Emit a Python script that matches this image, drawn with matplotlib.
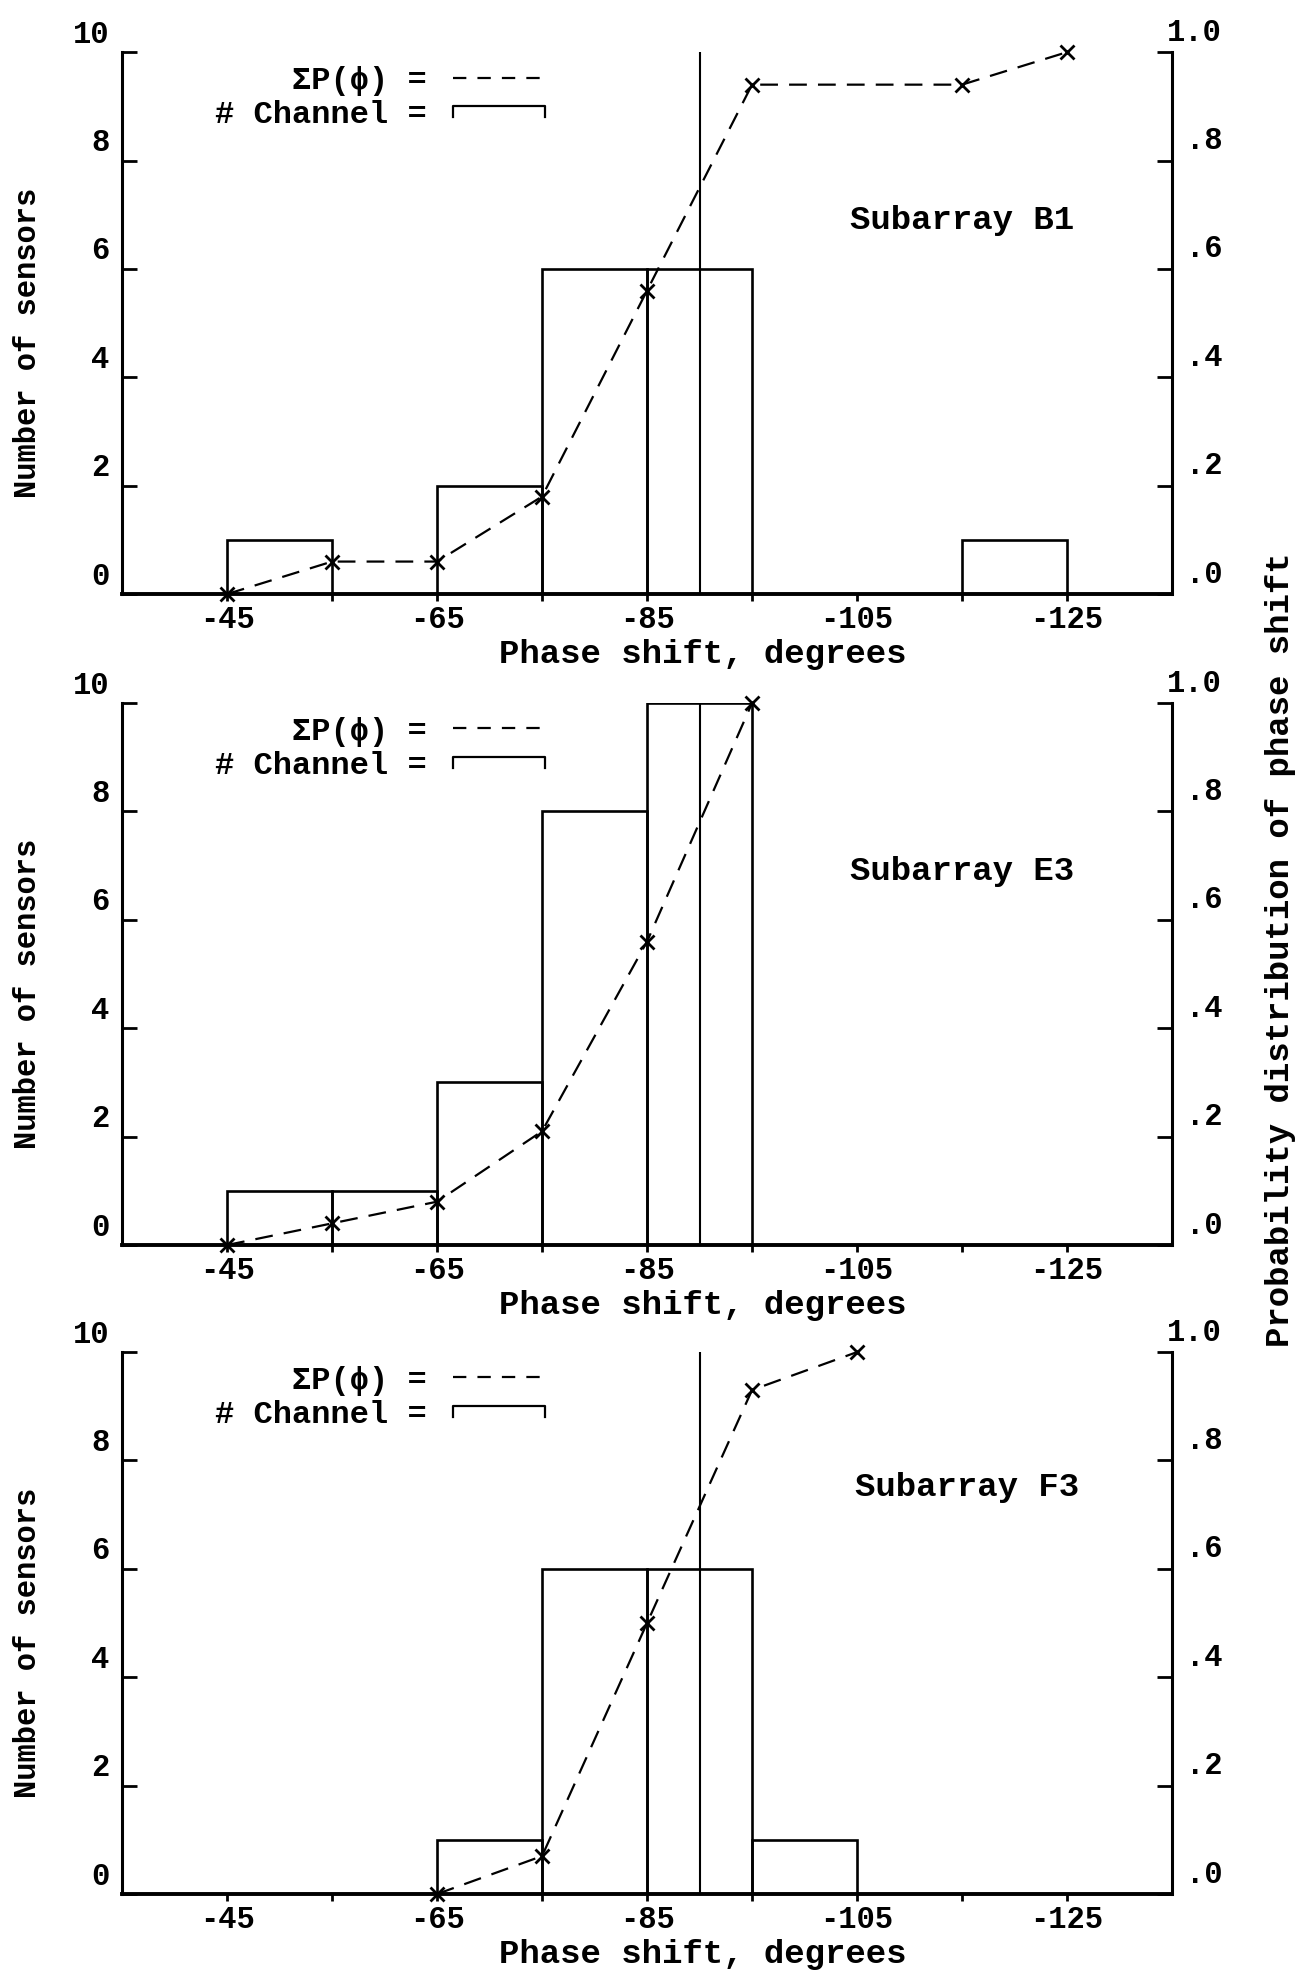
import matplotlib
matplotlib.use('Agg')
import matplotlib.pyplot as plt
from matplotlib.lines import Line2D
from matplotlib.legend_handler import HandlerBase
from matplotlib.container import BarContainer
from matplotlib.transforms import ScaledTranslation

plt.rcParams['font.family'] = ['Liberation Mono', 'DejaVu Sans Mono']
plt.rcParams['font.weight'] = 'bold'
plt.rcParams['axes.labelweight'] = 'bold'

# histogram bins (10 degree wide), centres in degrees
bin_centers = [-50, -60, -70, -80, -90, -100, -110, -120]

names = ['Subarray B1', 'Subarray E3', 'Subarray F3']

# number of sensors per bin
b1_counts = [1, 0, 2, 6, 6, 0, 0, 1]
e3_counts = [1, 1, 3, 8, 10, 0, 0, 0]
f3_counts = [0, 0, 1, 6, 6, 1, 0, 0]

# cumulative probability points
b1_cum_x = [-45, -55, -65, -75, -85, -95, -115, -125]
b1_cum_y = [0.0, 0.06, 0.06, 0.18, 0.56, 0.94, 0.94, 1.0]
e3_cum_x = [-45, -55, -65, -75, -85, -95]
e3_cum_y = [0.0, 0.04, 0.08, 0.21, 0.56, 1.0]
f3_cum_x = [-65, -75, -85, -95, -105]
f3_cum_y = [0.0, 0.07, 0.50, 0.93, 1.0]

median_shift = -90

x_ticks = [-45, -65, -85, -105, -125]
x_minor = [-55, -75, -95, -115]
y_ticks = [0, 2, 4, 6, 8, 10]
p_ticks = [0, 0.2, 0.4, 0.6, 0.8, 1.0]
p_labels = ['.0', '.2', '.4', '.6', '.8', '1.0']

panels = [
    (b1_counts, b1_cum_x, b1_cum_y, names[0], (-115, 6.9)),
    (e3_counts, e3_cum_x, e3_cum_y, names[1], (-115, 6.9)),
    (f3_counts, f3_cum_x, f3_cum_y, names[2], (-115.5, 7.5)),
]
bottoms = [0.6992, 0.3696, 0.0410]

DASH = (0, (8, 5))


class BracketHandler(HandlerBase):
    # draws the little open-box symbol used for "# Channel"
    def create_artists(self, legend, orig_handle, xdescent, ydescent,
                       width, height, fontsize, trans):
        x0 = -xdescent
        x1 = x0 + width
        ytop = -ydescent + height * 0.8
        ybot = -ydescent + height * 0.3
        ln = Line2D([x0, x0, x1, x1], [ybot, ytop, ytop, ybot],
                    color='black', lw=1.6, transform=trans)
        return [ln]


fig = plt.figure(figsize=(13.04, 19.75), dpi=100)

for (counts, cx, cy, name, txt_pos), bot in zip(panels, bottoms):
    ax = fig.add_axes([0.0936, bot, 0.8052, 0.2744])
    bars = ax.bar(bin_centers, counts, width=10, fill=False,
                  edgecolor='black', linewidth=1.9)
    ax.axvline(median_shift, 0, 1, color='black', lw=1.5)

    ax.set_xlim(-35, -135)
    ax.set_ylim(0, 10)
    ax.set_xticks(x_ticks)
    ax.set_xticks(x_minor, minor=True)
    ax.set_xticklabels([str(t) for t in x_ticks])
    ax.set_yticks(y_ticks)
    ax.set_yticklabels([str(t) for t in y_ticks])
    ax.tick_params(axis='x', which='both', direction='out', length=5,
                   width=2, labelsize=22, pad=3)
    ax.tick_params(axis='y', direction='in', length=11, width=2,
                   labelsize=22, pad=9)

    for sp in ['top', 'right']:
        ax.spines[sp].set_visible(False)
    ax.spines['bottom'].set_linewidth(2.8)
    ax.spines['left'].set_linewidth(2.2)

    ax.set_xlabel('Phase shift, degrees', fontsize=24.5)
    ax.xaxis.set_label_coords(0.553, -0.083)
    ax.set_ylabel('Number of sensors', fontsize=22)
    ax.yaxis.set_label_coords(-0.075, 0.463)

    # typewritten labels sit above their tick marks
    up = ScaledTranslation(0, 0.21, fig.dpi_scale_trans)
    for t in ax.yaxis.get_major_ticks():
        t.label1.set_transform(t.label1.get_transform() + up)

    ax2 = ax.twinx()
    ax2.set_ylim(0, 1)
    ax2.set_xlim(-35, -135)
    line, = ax2.plot(cx, cy, color='black', lw=1.6, linestyle=DASH,
                     marker='x', markersize=10, markeredgewidth=2,
                     clip_on=False)
    ax2.set_yticks(p_ticks)
    ax2.set_yticklabels(p_labels)
    ax2.tick_params(axis='y', direction='in', length=11, width=2,
                    labelsize=22, pad=36)
    for t in ax2.yaxis.get_major_ticks():
        t.label2.set_horizontalalignment('right')
        t.label2.set_transform(t.label2.get_transform()
                               + ScaledTranslation(0, 0.23, fig.dpi_scale_trans))
    for sp in ['top', 'left', 'bottom']:
        ax2.spines[sp].set_visible(False)
    ax2.spines['right'].set_linewidth(2.2)

    ax.text(txt_pos[0], txt_pos[1], name, fontsize=24.5, ha='center',
            va='center')

    dash_proxy = Line2D([], [], color='black', lw=1.6, linestyle=(0, (6, 5)))
    leg = ax2.legend([dash_proxy, bars],
                     ['\u03a3P(\u03d5) =', '# Channel ='],
                     handler_map={BarContainer: BracketHandler()},
                     loc='upper right', bbox_to_anchor=(0.403, 0.975),
                     frameon=False, markerfirst=False, fontsize=23,
                     handlelength=2.9, handletextpad=0.8,
                     labelspacing=0.15, borderpad=0, borderaxespad=0)

fig.text(1280 / 1304, 1 - 950 / 1975,
         'Probability distribution of phase shift', rotation=90,
         ha='center', va='center', fontsize=24.5)

fig.savefig('out.png', dpi=100, facecolor='white')
